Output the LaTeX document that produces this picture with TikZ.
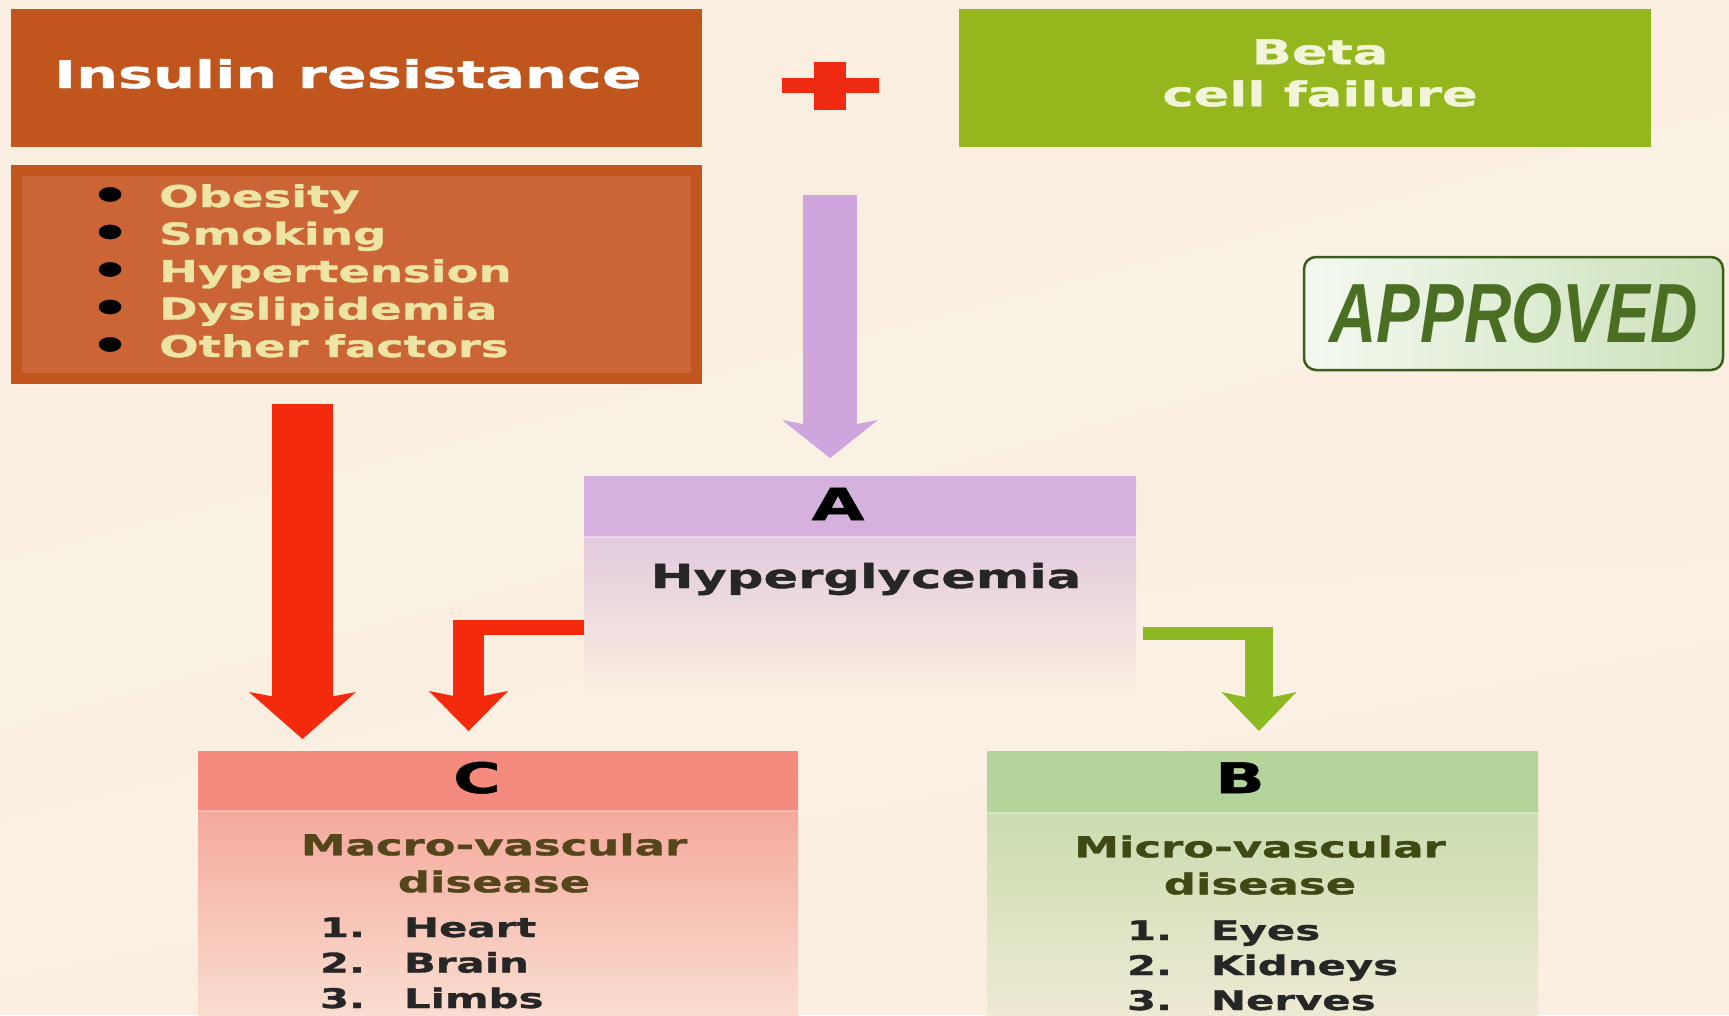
\documentclass[tikz,border=0pt]{standalone}
\usepackage{fontspec}
\setmainfont{DejaVu Sans}
\newfontfamily\widefont[FakeStretch=1.55, BoldFeatures={FakeBold=1.2}]{DejaVu Sans}
\newfontfamily\stampfont[FakeStretch=0.78, BoldFeatures={FakeBold=1}]{Liberation Sans}
\usetikzlibrary{arrows.meta}

\newcommand\wordfont[2]{\widefont\bfseries\fontsize{#1}{#2}\selectfont}
\newcommand\riskdot{\textcolor{black}{\raisebox{-2.5pt}{\scalebox{1.35}{\textbullet}}}}

\definecolor{bgcream}{HTML}{FAEEE0}
\definecolor{insbrown}{HTML}{C0561D}
\definecolor{riskedge}{HTML}{C3561E}
\definecolor{riskfill}{HTML}{CB6536}
\definecolor{riskword}{HTML}{EEE5A5}
\definecolor{betagreen}{HTML}{95B71E}
\definecolor{betaword}{HTML}{F2F5DA}
\definecolor{plusred}{HTML}{EE2B12}
\definecolor{arrred}{HTML}{F42A0C}
\definecolor{arrlilac}{HTML}{CEA5DC}
\definecolor{arrgreen}{HTML}{8CB822}
\definecolor{hyperhead}{HTML}{D4B2DD}
\definecolor{hyperbody}{HTML}{D8BCDD}
\definecolor{macrohead}{HTML}{F58B7E}
\definecolor{macrobody}{HTML}{F49A8E}
\definecolor{macroword}{HTML}{54461A}
\definecolor{microhead}{HTML}{B5D49C}
\definecolor{microbody}{HTML}{BFD8A4}
\definecolor{microword}{HTML}{3E4914}
\definecolor{stampedge}{HTML}{3B5E1B}
\definecolor{stampword}{HTML}{4A6F22}

\begin{document}
\begin{tikzpicture}[x=1pt, y=-1pt,
	box/.style={rectangle, inner sep=0pt, outer sep=0pt},
	word/.style={inner sep=0pt, outer sep=0pt}]
	% page and background
	\useasboundingbox (0,0) rectangle (1729,1015);
	\fill[bgcream] (0,0) rectangle (1729,1015);
	\fill[white, opacity=0.18] (0,560) -- (1729,110) -- (1729,250) -- (0,730) -- cycle;
	\fill[white, opacity=0.12] (0,820) -- (900,600) -- (1729,560) -- (1729,640) -- (0,980) -- cycle;
	\clip (0,0) rectangle (1729,1015);

	% top row
	\node[box, fill=insbrown, minimum width=691pt, minimum height=138pt] (ins) at (356.5,78) {};
	\node[word, text=white, font=\wordfont{38}{46}, anchor=base] (instext) at (348,88) {Insulin resistance};
	\node[box, fill=betagreen, minimum width=692pt, minimum height=138pt] (beta) at (1305,78) {};
	\node[word, text=betaword, font=\wordfont{34}{42}, align=center] (betatext) at (1320,73) {Beta\\cell failure};
	\node[box, minimum width=97pt, minimum height=48pt] (plus) at (830,86) {};
	\fill[plusred] ([yshift=8pt]plus.west) rectangle ([yshift=-7pt]plus.east);
	\fill[plusred] ([xshift=-16pt]plus.north) rectangle ([xshift=16pt]plus.south);

	% risk factors
	\node[box, fill=riskfill, draw=riskedge, line width=11pt, minimum width=680pt, minimum height=208pt] (risk) at (356.5,274.5) {};
	\node[word, text=riskword, font=\wordfont{30}{37.5}, anchor=base west] (risklist) at (90,207) {%
		\begin{tabular}[t]{@{}l@{\hspace{29pt}}l@{}}
			\riskdot & Obesity\\
			\riskdot & Smoking\\
			\riskdot & Hypertension\\
			\riskdot & Dyslipidemia\\
			\riskdot & Other factors
		\end{tabular}};

	% approved stamp
	\node[box, draw=stampedge, line width=2.5pt, rounded corners=12pt, left color=white!85!microhead, right color=microhead!70!white,
		minimum width=419pt, minimum height=113pt, text=stampword, font=\stampfont\bfseries\itshape\fontsize{84}{84}\selectfont] (stamp) at (1513.5,313.5) {APPROVED};

	% A
	\node[box, top color=hyperbody, middle color=hyperbody!55!bgcream, bottom color=bgcream, minimum width=552pt, minimum height=214pt] (hyper) at (860,583) {};
	\fill[hyperhead] (hyper.north west) rectangle ([yshift=-61pt]hyper.north east);
	\draw[white, opacity=0.35, line width=1.5pt] ([yshift=-61pt]hyper.north west) -- ([yshift=-61pt]hyper.north east);
	\node[word, font=\wordfont{44}{50}, anchor=base] (hyperletter) at (838,520) {A};
	\node[word, text=black!85, font=\wordfont{33}{40}, anchor=base] (hypername) at (866,588) {Hyperglycemia};

	% C
	\node[box, top color=macrobody, bottom color=macrobody!20!bgcream, minimum width=600pt, minimum height=264pt] (macro) at (498,883) {};
	\fill[macrohead] (macro.north west) rectangle ([yshift=-60pt]macro.north east);
	\draw[white, opacity=0.35, line width=1.5pt] ([yshift=-60pt]macro.north west) -- ([yshift=-60pt]macro.north east);
	\node[word, font=\wordfont{42}{50}, anchor=base] (macroletter) at (477,793) {C};
	\node[word, text=macroword, font=\wordfont{29}{37}, align=center] (macroname) at (494,863) {Macro-vascular\\disease};
	\node[word, text=black!85, font=\wordfont{27}{35.5}, anchor=base west] (macrolist) at (320,937) {%
		\begin{tabular}[t]{@{}l@{\hspace{39pt}}l@{}}
			1. & Heart\\
			2. & Brain\\
			3. & Limbs
		\end{tabular}};

	% B
	\node[box, top color=microbody, bottom color=microbody!20!bgcream, minimum width=551pt, minimum height=264pt] (micro) at (1262.5,883) {};
	\fill[microhead] (micro.north west) rectangle ([yshift=-62pt]micro.north east);
	\draw[white, opacity=0.35, line width=1.5pt] ([yshift=-62pt]micro.north west) -- ([yshift=-62pt]micro.north east);
	\node[word, font=\wordfont{42}{50}, anchor=base] (microletter) at (1240,793) {B};
	\node[word, text=microword, font=\wordfont{29}{37}, align=center] (microname) at (1260,865) {Micro-vascular\\disease};
	\node[word, text=black!85, font=\wordfont{27}{35}, anchor=base west] (microlist) at (1127,940) {%
		\begin{tabular}[t]{@{}l@{\hspace{39pt}}l@{}}
			1. & Eyes\\
			2. & Kidneys\\
			3. & Nerves
		\end{tabular}};

	% arrows
	\coordinate (elbowL) at (468.5,627.5);
	\coordinate (elbowR) at (1259,633.5);
	\draw[arrlilac, line width=54pt, shorten <=85pt, shorten >=18pt,
		-{Stealth[length=38pt, width=96pt, inset=9pt, line width=0pt]}] (plus.south) -- (plus.south |- hyper.north);
	\draw[arrred, line width=61pt, shorten <=25pt, shorten >=12pt,
		-{Stealth[length=47pt, width=107pt, inset=10pt, line width=0pt]}] ([xshift=-54pt]risk.south) -- ([xshift=-54pt]risk.south |- macro.north);
	\draw[arrred, line width=15pt] (elbowL -| hyper.west) -- ([xshift=-15.5pt]elbowL);
	\draw[arrred, line width=31pt, shorten >=20pt,
		-{Stealth[length=40pt, width=79pt, inset=8pt, line width=0pt]}] ([yshift=7.5pt]elbowL) -- (elbowL |- macro.north);
	\draw[arrgreen, line width=13pt, shorten <=7pt] (elbowR -| hyper.east) -- ([xshift=14pt]elbowR);
	\draw[arrgreen, line width=28pt, shorten >=20pt,
		-{Stealth[length=39pt, width=75pt, inset=8pt, line width=0pt]}] ([yshift=6.5pt]elbowR) -- (elbowR |- micro.north);
\end{tikzpicture}
\end{document}
